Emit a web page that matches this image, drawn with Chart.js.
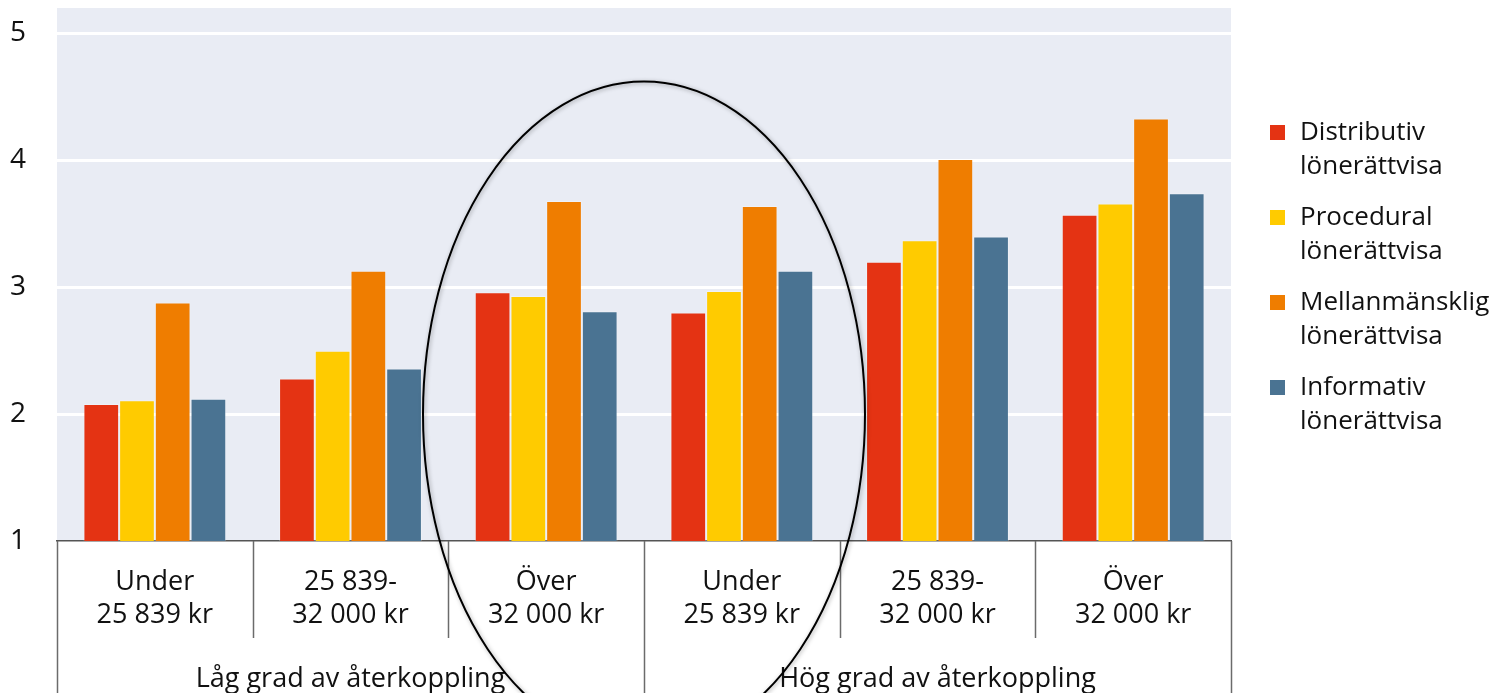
<!DOCTYPE html>
<html lang="sv">
<head>
<meta charset="utf-8">
<title>Lönerättvisa</title>
<script src="https://cdn.jsdelivr.net/npm/chart.js@4.4.1/dist/chart.umd.min.js"></script>
<style>
  html, body { margin: 0; padding: 0; background: #fff; }
  .wrap { position: relative; width: 1492px; height: 693px; }
</style>
</head>
<body>
<div class="wrap">
  <canvas id="chart"></canvas>
</div>
<script>
// categories (income bands) and the two feedback groups
const incomeLabels = [
  ['Under', '25 839 kr'],
  ['25 839-', '32 000 kr'],
  ['Över', '32 000 kr'],
  ['Under', '25 839 kr'],
  ['25 839-', '32 000 kr'],
  ['Över', '32 000 kr']
];
const groupLabels = ['Låg grad av återkoppling', 'Hög grad av återkoppling'];
const groupSize = 3;

// series
const seriesNames = [
  ['Distributiv', 'lönerättvisa'],
  ['Procedural', 'lönerättvisa'],
  ['Mellanmänsklig', 'lönerättvisa'],
  ['Informativ', 'lönerättvisa']
];
const distributiv = [2.08, 2.28, 2.96, 2.80, 3.20, 3.57];
const procedural = [2.11, 2.50, 2.93, 2.97, 3.37, 3.66];
const mellanmansklig = [2.88, 3.13, 3.68, 3.64, 4.01, 4.33];
const informativ = [2.12, 2.36, 2.81, 3.13, 3.40, 3.74];
const colors = ['#E43313', '#FFCB00', '#EF7D00', '#4A7392'];

const yTicks = [1, 2, 3, 4, 5];

// circled area: centre between category 3 and 4, radius in pixels
const ringCenterValue = 2.0;
const ringTopValue = 4.62;
const ringRadiusX = 221;

const FONT = '"Open Sans", "Noto Sans", sans-serif';

const plotBackground = {
  id: 'plotBackground',
  beforeDraw(chart) {
    const { ctx, chartArea: a } = chart;
    ctx.save();
    ctx.fillStyle = '#E9ECF4';
    ctx.fillRect(a.left, a.top, a.right - a.left, a.bottom - a.top);
    ctx.restore();
  }
};

// separator lines under the x axis and the group captions
const groupAxis = {
  id: 'groupAxis',
  afterDraw(chart) {
    const { ctx, chartArea: a } = chart;
    const x = chart.scales.x;
    const step = (a.right - a.left) / incomeLabels.length;
    ctx.save();
    ctx.strokeStyle = '#6b6b6b';
    ctx.lineWidth = 1.5;
    for (let i = 0; i <= incomeLabels.length; i++) {
      const px = Math.round(x.getPixelForTick(Math.min(i, incomeLabels.length - 1)) + (i === incomeLabels.length ? step / 2 : -step / 2)) + 0.5;
      const isGroupEdge = i % groupSize === 0;
      ctx.beginPath();
      ctx.moveTo(px, a.bottom);
      ctx.lineTo(px, isGroupEdge ? chart.height : a.bottom + 97);
      ctx.stroke();
    }
    ctx.fillStyle = '#111';
    ctx.font = '27px ' + FONT;
    ctx.textAlign = 'center';
    ctx.textBaseline = 'middle';
    groupLabels.forEach((g, gi) => {
      const first = x.getPixelForTick(gi * groupSize);
      const last = x.getPixelForTick(gi * groupSize + groupSize - 1);
      ctx.fillText(g, (first + last) / 2, a.bottom + 138);
    });
    ctx.restore();
  }
};

const ring = {
  id: 'ring',
  afterDraw(chart) {
    const { ctx } = chart;
    const x = chart.scales.x, y = chart.scales.y;
    const cx = (x.getPixelForTick(2) + x.getPixelForTick(3)) / 2;
    const cy = y.getPixelForValue(ringCenterValue);
    const ry = cy - y.getPixelForValue(ringTopValue);
    ctx.save();
    ctx.strokeStyle = '#000';
    ctx.lineWidth = 2;
    ctx.shadowColor = 'rgba(0,0,0,0.35)';
    ctx.shadowBlur = 4;
    ctx.shadowOffsetX = 1;
    ctx.shadowOffsetY = 1;
    ctx.beginPath();
    ctx.ellipse(cx, cy, ringRadiusX, ry, 0, 0, Math.PI * 2);
    ctx.stroke();
    ctx.restore();
  }
};

const sideLegend = {
  id: 'sideLegend',
  afterDraw(chart) {
    const { ctx, chartArea: a } = chart;
    const left = a.right + 39;
    ctx.save();
    ctx.font = '26px ' + FONT;
    ctx.textBaseline = 'middle';
    ctx.textAlign = 'left';
    chart.data.datasets.forEach((ds, i) => {
      const top = 133 + i * 85;
      ctx.fillStyle = ds.backgroundColor;
      ctx.fillRect(left, top - 8, 15, 15);
      ctx.fillStyle = '#111';
      ds.label.forEach((line, li) => ctx.fillText(line, left + 30, top + li * 34));
    });
    ctx.restore();
  }
};

const seriesValues = [distributiv, procedural, mellanmansklig, informativ];

new Chart(document.getElementById('chart'), {
  type: 'bar',
  data: {
    labels: incomeLabels,
    datasets: seriesValues.map((vals, i) => ({
      label: seriesNames[i],
      data: vals,
      backgroundColor: colors[i],
      borderColor: 'rgba(255,255,255,0.25)',
      borderWidth: 1,
      barPercentage: 1,
      categoryPercentage: 0.73
    }))
  },
  options: {
    responsive: true,
    maintainAspectRatio: false,
    animation: false,
    layout: { padding: { top: 8, right: 261, left: 0, bottom: 0 } },
    plugins: {
      legend: { display: false },
      tooltip: { enabled: false }
    },
    scales: {
      x: {
        grid: { display: false },
        border: { display: true, color: '#555', width: 1.5 },
        ticks: {
          color: '#111',
          font: { family: FONT, size: 27, lineHeight: 1.22 },
          padding: 17,
          maxRotation: 0,
          autoSkip: false
        },
        afterFit(scale) {
          scale.height = 152;
          scale.paddingLeft = 0;
          scale.paddingRight = 0;
        }
      },
      y: {
        min: 1,
        max: 5.2,
        afterBuildTicks(scale) { scale.ticks = yTicks.map(v => ({ value: v })); },
        grid: { color: '#fff', lineWidth: 3, drawTicks: false },
        border: { display: false },
        ticks: {
          color: '#111',
          font: { family: FONT, size: 28 },
          padding: 31
        },
        afterFit(scale) {
          scale.width = 57;
          scale.paddingTop = 0;
          scale.paddingBottom = 0;
        }
      }
    }
  },
  plugins: [plotBackground, groupAxis, ring, sideLegend]
});
</script>
</body>
</html>
